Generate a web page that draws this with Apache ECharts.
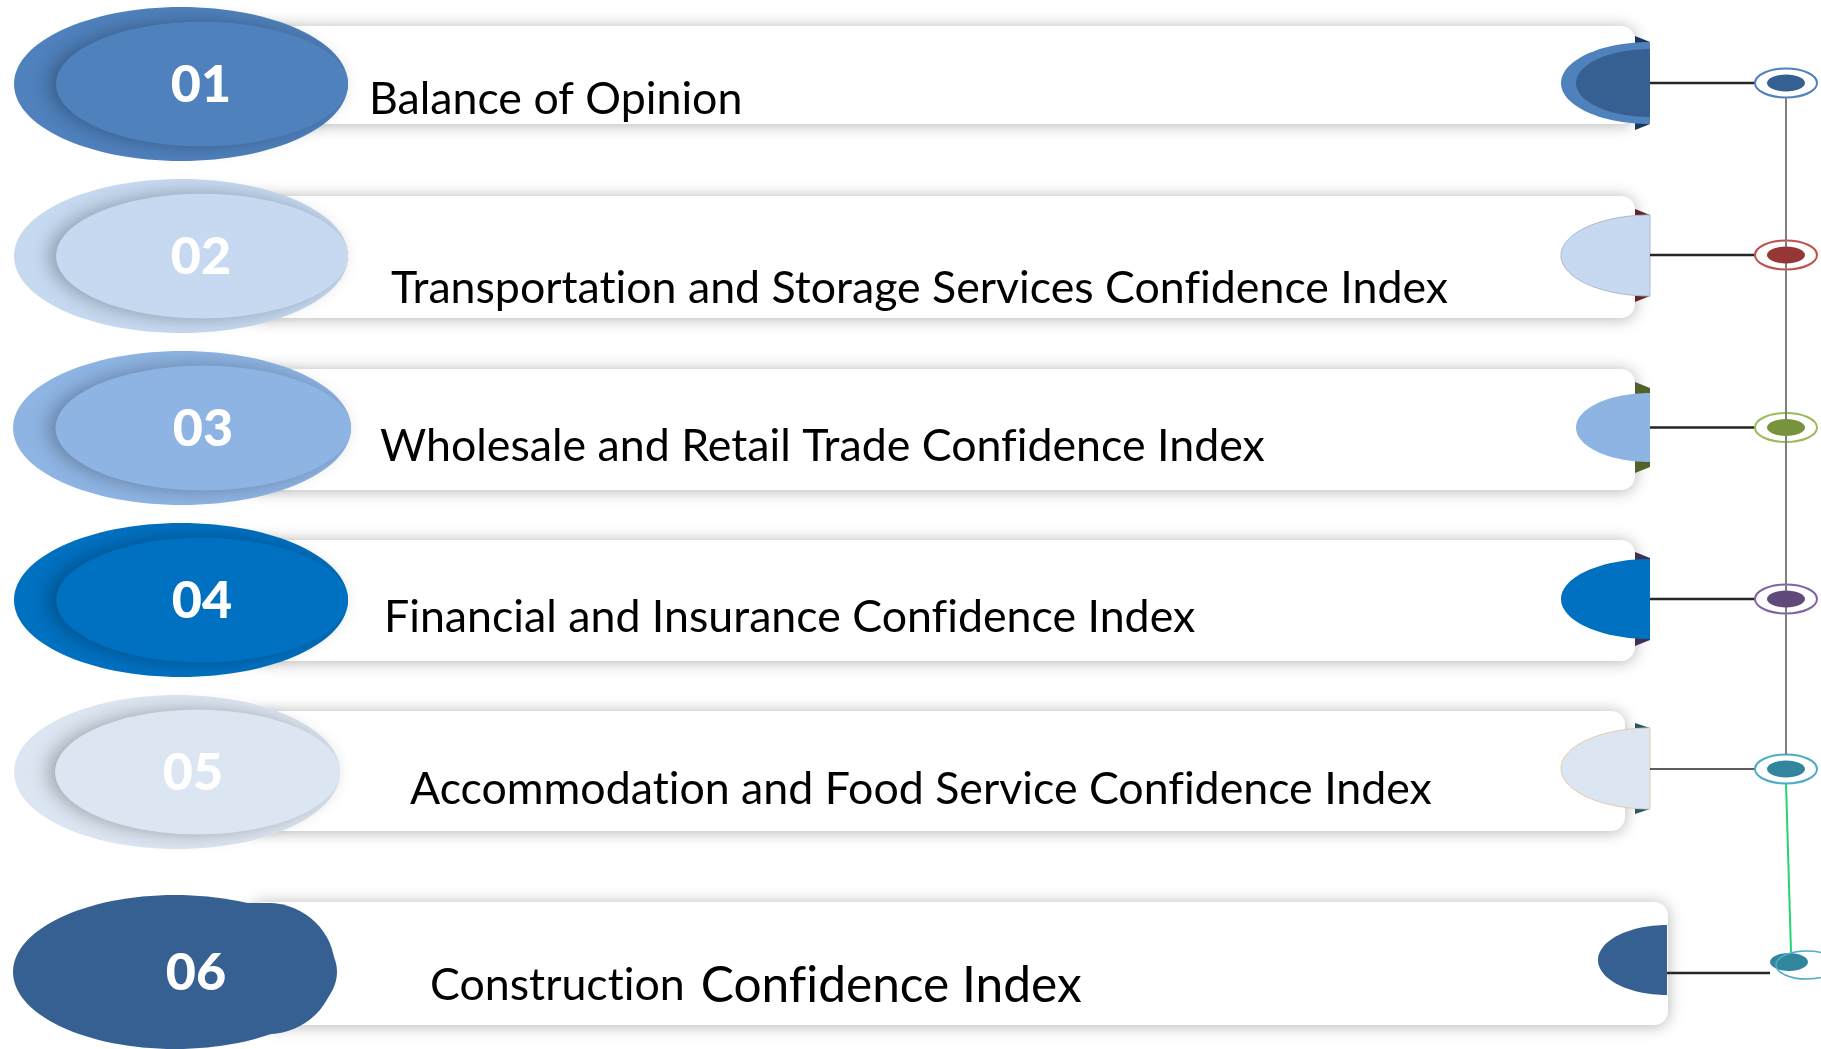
<!DOCTYPE html>
<html><head><meta charset="utf-8">
<script src="https://cdn.jsdelivr.net/npm/echarts@6/dist/echarts.min.js"></script>
<style>html,body{margin:0;padding:0;background:#fff;overflow:hidden}#c{width:1821px;height:1049px}</style>
</head><body><div id="c"></div>
<script>
// ---- content ----
const numbers = ['01', '02', '03', '04', '05', '06'];
const labels = [
  'Balance of Opinion',
  'Transportation and Storage Services Confidence Index',
  'Wholesale and Retail Trade Confidence Index',
  'Financial and Insurance Confidence Index',
  'Accommodation and Food Service Confidence Index',
  'Construction Confidence Index'
];
const ovalColors = ['#4f81bd', '#c6d9f0', '#8eb4e3', '#0070c0', '#dce6f2', '#376092'];
const capOuterColors = ['#4f81bd', '#c6d9f0', '#8eb4e3', '#0070c0', '#dce6f2', '#376092'];
const capInnerColors = ['#376092', null, null, null, null, null];
const tabColors = ['#17375e', '#632523', '#4f6228', '#3f3151', '#215968', null];
const ringColors = ['#4f81bd', '#c0504d', '#9bbb59', '#8064a2', '#4bacc6', '#4bacc6'];
const dotColors = ['#376092', '#953735', '#77933c', '#604a7b', '#31859c', '#31859c'];

// ---- layout (pixels) ----
const ovalCX = [181, 181, 182, 181, 177, 175];
const ovalCY = [84, 256, 428, 600, 772, 972];
const ovalRX = [167, 167, 169, 167, 163, 162];
const ovalRY = 77;
const cardLeft = 250;
const cardTop = [26, 196, 369, 540, 711, 902];
const cardBottom = [124, 318, 490, 661, 831, 1025];
const cardRight = [1635, 1635, 1635, 1635, 1625, 1668];
const numX = [201, 201, 203, 202, 193, 196];
const textX = [369, 391, 380, 384, 410, 430];
const textBase = [115, 304, 462, 633, 805, 1001];
const capRight = [1650, 1650, 1650, 1650, 1650, 1667];
const capCY = [83, 255.5, 427.5, 599, 768.5, 960];
const capRX = [89, 89, 74, 89, 89, 69];
const capRY = [41, 40.5, 34.5, 40, 40.5, 35];
const tabH = [6, 6, 11, 7, 5, 0];
const dotX = [1786, 1786, 1786, 1786, 1786, 1789];
const dotY = [83, 255, 427.5, 599, 769, 962];
const ringX = [1786, 1786, 1786, 1786, 1786, 1807];
const ringY = [83, 255, 427.5, 599, 769, 965];
const connY = [83, 255, 427.5, 599, 769, 973];
const connEnd = [1755, 1755, 1755, 1755, 1755, 1770];
const connW = [2.5, 2.5, 2.5, 2.5, 1.6, 2.5];

// draw text without typographic ligatures (the reference shows plain "ti"/"fi")
(function () {
  const P = CanvasRenderingContext2D.prototype;
  ['fillText', 'measureText', 'strokeText'].forEach(function (fn) {
    const orig = P[fn];
    P[fn] = function () {
      if ('textRendering' in this) this.textRendering = 'optimizeSpeed';
      return orig.apply(this, arguments);
    };
  });
})();

// fit label font size to the reference width of the longest label
const cv = document.createElement('canvas').getContext('2d');
cv.font = '40px Lato';
const labelFS = 40 * 1058 / cv.measureText(labels[1]).width;
const numFS = 52;

function halfEllipse(R, cy, rx, ry) {
  const pts = [];
  for (let i = 0; i <= 60; i++) {
    const t = Math.PI / 2 + Math.PI * i / 60;
    pts.push([R + rx * Math.cos(t), cy + ry * Math.sin(t)]);
  }
  return pts;
}

const els = [];
numbers.forEach((n, i) => {
  // card
  els.push({
    type: 'rect', z: 1,
    shape: { x: cardLeft, y: cardTop[i], width: cardRight[i] - cardLeft, height: cardBottom[i] - cardTop[i], r: 14 },
    style: { fill: '#ffffff', shadowBlur: 16, shadowColor: 'rgba(0,0,0,0.30)', shadowOffsetY: 1 }
  });
  // left oval (outer)
  els.push({
    type: 'ellipse', z: 3,
    shape: { cx: ovalCX[i], cy: ovalCY[i], rx: ovalRX[i], ry: ovalRY },
    style: { fill: ovalColors[i] }
  });
  const outerRight = ovalCX[i] + ovalRX[i];
  const irx = ovalRX[i] * 0.874;
  if (i < 5) {
    els.push({
      type: 'ellipse', z: 4,
      shape: { cx: outerRight - irx, cy: ovalCY[i], rx: irx, ry: ovalRY * 0.81 },
      style: { fill: ovalColors[i], shadowBlur: 18, shadowOffsetX: -7, shadowColor: 'rgba(0,0,0,0.28)' }
    });
  } else {
    els.push({
      type: 'rect', z: 4,
      shape: { x: 228, y: 903, width: 44, height: 131 },
      style: { fill: ovalColors[i] }
    });
    els.push({
      type: 'ellipse', z: 4,
      shape: { cx: 268, cy: 968.5, rx: 67, ry: 65.5 },
      style: { fill: ovalColors[i] }
    });
  }
  // number
  els.push({
    type: 'text', z: 6, x: numX[i], y: ovalCY[i] + 1,
    style: { text: n, fill: '#ffffff', fontSize: numFS, fontWeight: 900, fontFamily: 'Lato', align: 'center', verticalAlign: 'middle' }
  });
  // label
  let txt = labels[i];
  let st = { text: txt, fill: '#000000', font: labelFS.toFixed(1) + 'px Lato', align: 'left', verticalAlign: 'middle' };
  if (i === 5) {
    const sp = txt.indexOf(' ');
    st = {
      text: '{s|' + txt.slice(0, sp) + '}{g| }{b|' + txt.slice(sp + 1) + '}',
      align: 'left', verticalAlign: 'middle',
      rich: {
        s: { fontSize: labelFS * 1.0, fontFamily: 'Lato', fill: '#000' },
        g: { fontSize: labelFS * 1.4, fontFamily: 'Lato', fill: '#000' },
        b: { fontSize: labelFS * 1.11, fontFamily: 'Lato', fill: '#000' }
      }
    };
  }
  els.push({ type: 'text', z: 6, x: textX[i], y: textBase[i] - labelFS * 0.34, style: st });
  // tabs behind the cap
  if (tabColors[i]) {
    const R = capRight[i], top = capCY[i] - capRY[i], bot = capCY[i] + capRY[i], h = tabH[i], s = Math.min(h, 6);
    els.push({ type: 'polygon', z: 2, shape: { points: [[R - 15, top - h], [R, top - h + s], [R, top + 2], [R - 15, top + 2]] }, style: { fill: tabColors[i] } });
    els.push({ type: 'polygon', z: 2, shape: { points: [[R - 15, bot + h], [R, bot + h - s], [R, bot - 2], [R - 15, bot - 2]] }, style: { fill: tabColors[i] } });
  }
  // cap (half oval at right of card)
  els.push({
    type: 'polygon', z: 3,
    shape: { points: halfEllipse(capRight[i], capCY[i], capRX[i], capRY[i]) },
    style: { fill: capOuterColors[i], stroke: i === 4 ? '#e2cba6' : (i === 1 ? '#a9b9cf' : null), lineWidth: 1 }
  });
  if (capInnerColors[i]) {
    els.push({
      type: 'polygon', z: 4,
      shape: { points: halfEllipse(capRight[i], capCY[i], capRX[i] - 15, capRY[i] - 7) },
      style: { fill: capInnerColors[i] }
    });
  }
  // connector
  els.push({
    type: 'line', z: 3,
    shape: { x1: capRight[i], y1: connY[i], x2: connEnd[i], y2: connY[i] },
    style: { stroke: '#262626', lineWidth: connW[i] }
  });
  // ring and dot
  if (i < 5) {
    els.push({ type: 'ellipse', z: 7, shape: { cx: ringX[i], cy: ringY[i], rx: 31, ry: 14.5 }, style: { fill: '#ffffff', stroke: ringColors[i], lineWidth: 2 } });
    els.push({ type: 'ellipse', z: 9, shape: { cx: dotX[i], cy: dotY[i], rx: 19, ry: 8.5 }, style: { fill: dotColors[i] } });
  } else {
    els.push({ type: 'ellipse', z: 9, shape: { cx: dotX[i], cy: dotY[i], rx: 19, ry: 9 }, style: { fill: dotColors[i] } });
    els.push({ type: 'ellipse', z: 10, shape: { cx: ringX[i], cy: ringY[i], rx: 31, ry: 14 }, style: { fill: null, stroke: ringColors[i], lineWidth: 1.6 } });
  }
});
// spine lines
els.push({ type: 'line', z: 8, shape: { x1: 1786, y1: 97, x2: 1786, y2: 755 }, style: { stroke: '#7f7f7f', lineWidth: 2 } });
els.push({ type: 'line', z: 8, shape: { x1: 1786, y1: 783, x2: 1791, y2: 952 }, style: { stroke: '#24d473', lineWidth: 2 } });

const chart = echarts.init(document.getElementById('c'), null, { renderer: 'canvas' });
chart.setOption({ animation: false, backgroundColor: '#ffffff', graphic: { elements: els } });
</script>
</body></html>
